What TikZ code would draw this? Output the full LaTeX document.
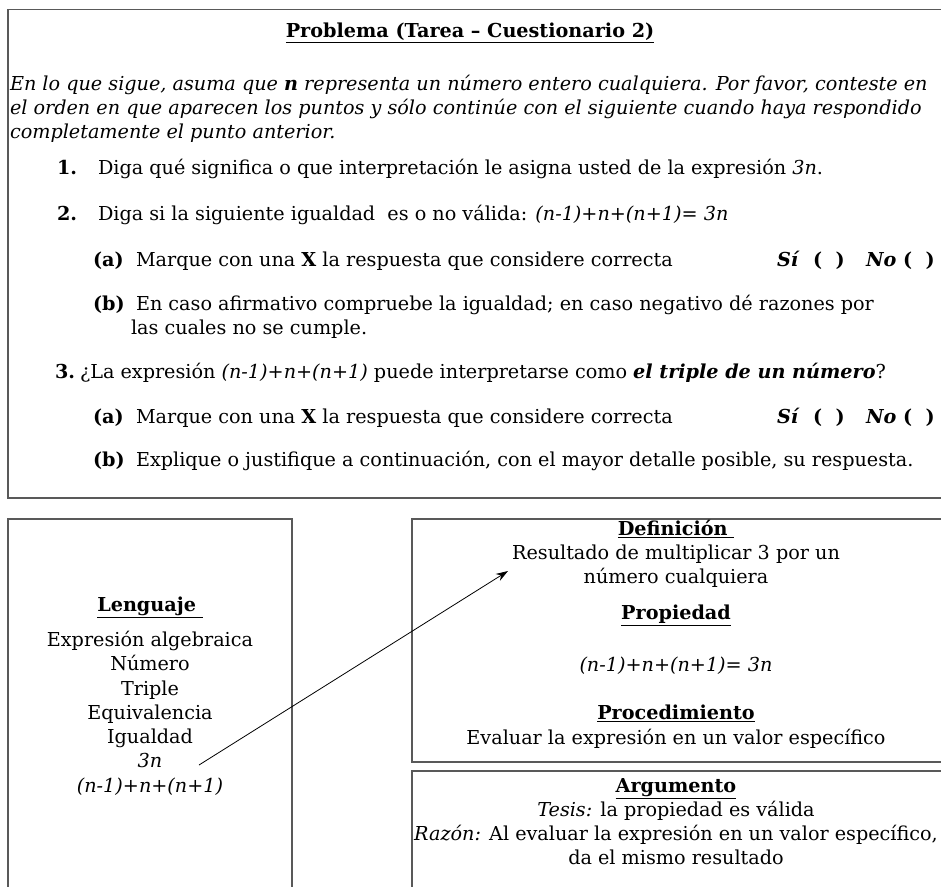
\documentclass[tikz,border=0pt]{standalone}
\usepackage{fontspec}
\setmainfont{DejaVu Serif}
\usetikzlibrary{arrows.meta}
\tikzstyle{every node}=[inner sep=0pt,outer sep=0pt,text height=14pt,text depth=5pt]
\tikzstyle{txt}=[anchor=west]
\tikzstyle{mid}=[anchor=center]
\tikzstyle{marco}=[draw=black!65,line width=1.4pt]
\tikzstyle{flecha}=[-{Stealth[length=12pt,width=8pt]},line width=0.8pt]

\begin{document}
\begin{tikzpicture}[x=1pt,y=-1pt,font=\fontsize{19.2}{24}\selectfont]
  \useasboundingbox (0,0) rectangle (941,886);
  \draw[marco] (8,9.5) rectangle (960,498);
  \draw[marco] (8,519) rectangle (292,900);
  \draw[marco] (412,519) rectangle (960,762);
  \draw[marco] (412,771) rectangle (960,900);

  \node[mid] (titulo) at (470,33) {\bfseries\underline{Problema (Tarea -- Cuestionario 2)}};
  \node[txt] (par1) at (10,86) {\itshape En lo que sigue, asuma que \textbf{n} representa un número entero cualquiera. Por favor, conteste en};
  \node[txt] (par2) at (10,110) {\itshape el orden en que aparecen los puntos y sólo continúe con el siguiente cuando haya respondido};
  \node[txt] (par3) at (10,134) {\itshape completamente el punto anterior.};

  \node[txt] (n1) at (57,170) {\textbf{1.}};
  \node[txt] (t1) at (98,170) {Diga qué significa o que interpretación le asigna usted de la expresión \textit{3n}.};
  \node[txt] (n2) at (57,216) {\textbf{2.}};
  \node[txt] (t2) at (98,216) {Diga si la siguiente igualdad\ \ es o no válida: \textit{(n-1)+n+(n+1)= 3n}};
  \node[txt] (n2a) at (93,262) {\textbf{(a)}};
  \node[txt] (t2a) at (136,262) {Marque con una \textbf{X} la respuesta que considere correcta};
  \node[txt] (si2) at (777,262) {\textbf{\textit{Sí}\ \ (\ \ )}};
  \node[txt] (no2) at (866,262) {\textbf{\textit{No}\ (\ \ )}};
  \node[txt] (n2b) at (93,306) {\textbf{(b)}};
  \node[txt] (t2b) at (136,306) {En caso afirmativo compruebe la igualdad; en caso negativo dé razones por};
  \node[txt] (t2bb) at (131,330) {las cuales no se cumple.};
  \node[txt] (n3) at (55,374) {\textbf{3.}};
  \node[txt] (t3) at (80,374) {¿La expresión \textit{(n-1)+n+(n+1)} puede interpretarse como \textbf{\textit{el triple de un número}}?};
  \node[txt] (n3a) at (93,419) {\textbf{(a)}};
  \node[txt] (t3a) at (136,419) {Marque con una \textbf{X} la respuesta que considere correcta};
  \node[txt] (si3) at (777,419) {\textbf{\textit{Sí}\ \ (\ \ )}};
  \node[txt] (no3) at (866,419) {\textbf{\textit{No}\ (\ \ )}};
  \node[txt] (n3b) at (93,462) {\textbf{(b)}};
  \node[txt] (t3b) at (136,462) {Explique o justifique a continuación, con el mayor detalle posible, su respuesta.};

  \node[mid] (lenguaje) at (150,607) {\bfseries\underline{Lenguaje\ }};
  \node[mid] (expr) at (150,642) {Expresión algebraica};
  \node[mid] (numero) at (150,666) {Número};
  \node[mid] (triple) at (150,691) {Triple};
  \node[mid] (equiv) at (150,715) {Equivalencia};
  \node[mid] (igual) at (150,739) {Igualdad};
  \node[mid] (tres) at (150,763) {\itshape 3n};
  \node[mid] (suma) at (150,788) {\itshape (n-1)+n+(n+1)};

  \node[mid] (defin) at (676,531) {\bfseries\underline{Definición\ }};
  \node[mid] (defa) at (676,555) {Resultado de multiplicar 3 por un};
  \node[mid] (defb) at (676,579) {número cualquiera};
  \node[mid] (propi) at (676,615) {\bfseries\underline{Propiedad}};
  \node[mid] (propa) at (676,667) {\itshape (n-1)+n+(n+1)= 3n};
  \node[mid] (proce) at (676,715) {\bfseries\underline{Procedimiento}};
  \node[mid] (procea) at (676,740) {Evaluar la expresión en un valor específico};

  \node[mid] (argum) at (676,788) {\bfseries\underline{Argumento}};
  \node[mid] (tesis) at (676,812) {\textit{Tesis:} la propiedad es válida};
  \node[mid] (razon) at (676,836) {\textit{Razón:} Al evaluar la expresión en un valor específico,};
  \node[mid] (razonb) at (676,860) {da el mismo resultado};

  \coordinate (flechaIni) at (199,765);
  \coordinate (flechaFin) at (508,571);
  \draw[flecha] (flechaIni) -- (flechaFin);
\end{tikzpicture}
\end{document}
